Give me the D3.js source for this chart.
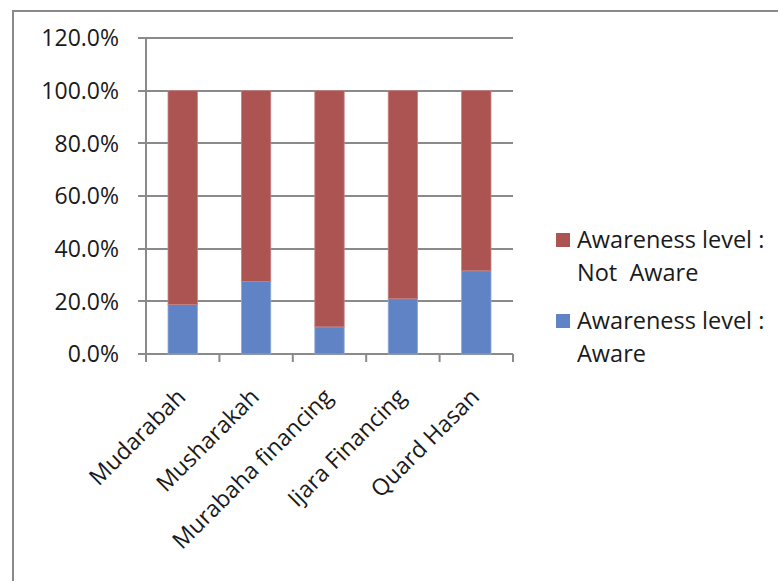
<!DOCTYPE html>
<html>
<head>
<meta charset="utf-8">
<script src="https://cdn.jsdelivr.net/npm/d3@7"></script>
<style>
  body { margin: 0; background: #fff; }
  text { font-family: "Open Sans", sans-serif; fill: #1a1a1a; }
</style>
</head>
<body>
<svg id="chart" width="778" height="581"></svg>
<script>
const categories = ["Mudarabah", "Musharakah", "Murabaha financing", "Ijara Financing", "Quard Hasan"];
const aware = [18.8, 27.5, 10.3, 21.0, 31.6];
const notAware = [81.2, 72.5, 89.7, 79.0, 68.4];
const seriesNames = ["Awareness level : Aware", "Awareness level : Not  Aware"];
const yTicks = [0, 20, 40, 60, 80, 100, 120];

const svg = d3.select("#chart");
const grey = "#8a8a8a";

// outer frame (right and bottom run off the picture)
svg.append("path")
  .attr("d", "M13,590 L13,11 L790,11")
  .attr("fill", "none")
  .attr("stroke", grey)
  .attr("stroke-width", 2);

margin = { top: 38, left: 146, right: 265, bottom: 227 }
width = 778 - margin.left - margin.right
height = 581 - margin.top - margin.bottom

g = svg.append("g").attr("transform", "translate(" + margin.left + "," + margin.top + ")");

const x = d3.scaleBand()
  .domain(categories)
  .range([0, width])
  .paddingInner(0.6)
  .paddingOuter(0.3);

const y = d3.scaleLinear()
  .domain([0, 120])
  .range([height, 0]);

// gridlines
g.append("g")
  .selectAll("line")
  .data(yTicks)
  .join("line")
    .attr("x1", -8)
    .attr("x2", width)
    .attr("y1", d => Math.round(y(d)))
    .attr("y2", d => Math.round(y(d)))
    .attr("stroke", grey)
    .attr("stroke-width", 2);

// y labels
g.append("g")
  .selectAll("text")
  .data(yTicks)
  .join("text")
    .attr("x", -27)
    .attr("y", d => y(d))
    .attr("dy", "0.36em")
    .attr("text-anchor", "end")
    .style("font-size", "23px")
    .text(d => d.toFixed(1) + "%");

// stacked bars
const rows = categories.map((c, i) => ({ cat: c, aware: aware[i], notAware: notAware[i] }));
const stack = d3.stack().keys(["aware", "notAware"])(rows);
const colors = { aware: "#5f83c4", notAware: "#ab5452" };
const edges = { aware: "#8fa8d8", notAware: "#c78180" };

stack.forEach(layer => {
  g.append("g")
    .selectAll("rect")
    .data(layer)
    .join("rect")
      .attr("x", d => x(d.data.cat))
      .attr("width", x.bandwidth())
      .attr("y", d => y(d[1]))
      .attr("height", d => y(d[0]) - y(d[1]))
      .attr("fill", colors[layer.key])
      .attr("stroke", edges[layer.key])
      .attr("stroke-width", 0.8);
});

// y axis line
g.append("line")
  .attr("x1", 0).attr("x2", 0)
  .attr("y1", 0).attr("y2", height)
  .attr("stroke", grey).attr("stroke-width", 2);

// x axis ticks at band edges
const edgesX = d3.range(categories.length + 1).map(i => i * width / categories.length);
g.append("g")
  .selectAll("line")
  .data(edgesX)
  .join("line")
    .attr("x1", d => d).attr("x2", d => d)
    .attr("y1", height).attr("y2", height + 8)
    .attr("stroke", grey).attr("stroke-width", 2);

// x labels
g.append("g")
  .selectAll("text")
  .data(categories)
  .join("text")
    .attr("text-anchor", "end")
    .attr("transform", d => "translate(" + (x(d) + x.bandwidth() / 2 - 7) + "," + (height + 33) + ") rotate(-45)")
    .attr("dy", "0.7em")
    .style("font-size", "23px")
    .text(d => d);

// legend
const legend = svg.append("g");
const legendItems = [
  { color: colors.notAware, lines: ["Awareness level :", "Not  Aware"], top: 233 },
  { color: colors.aware, lines: ["Awareness level :", "Aware"], top: 314 }
];
legendItems.forEach(item => {
  legend.append("rect")
    .attr("x", 556).attr("y", item.top)
    .attr("width", 14).attr("height", 14)
    .attr("fill", item.color);
  item.lines.forEach((t, j) => {
    legend.append("text")
      .attr("x", 577)
      .attr("y", item.top + 15 + j * 33)
      .style("font-size", "23.5px")
      .style("white-space", "pre")
      .text(t);
  });
});
</script>
</body>
</html>
